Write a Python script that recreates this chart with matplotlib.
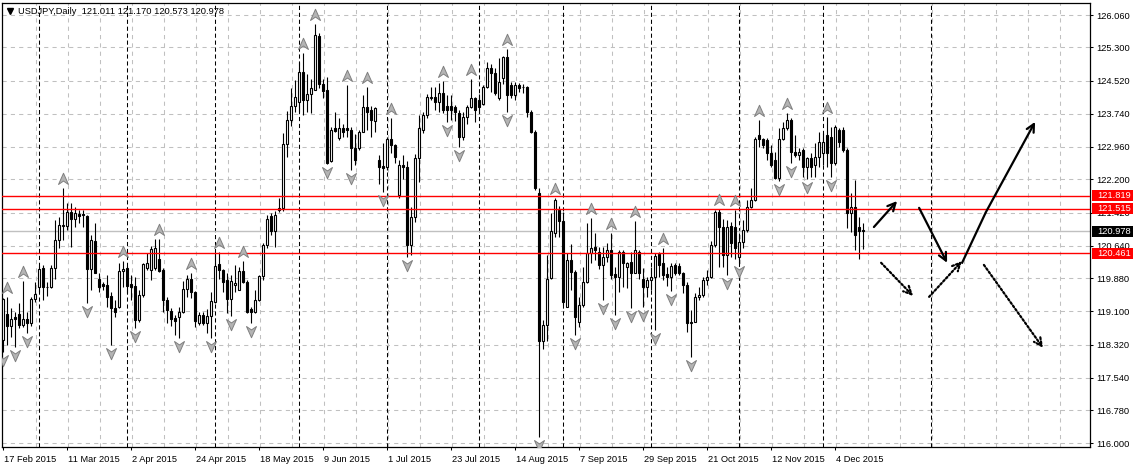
import numpy as np
import pandas as pd
import matplotlib
matplotlib.use("Agg")
import matplotlib.pyplot as plt
from matplotlib.path import Path
from matplotlib.patches import Rectangle, FancyArrowPatch
import matplotlib.transforms as mtransforms

plt.rcParams['font.family'] = ['Liberation Sans', 'DejaVu Sans']
plt.rcParams['lines.scale_dashes'] = False

# ---------------- DATA ----------------
symbol = "USDJPY"
timeframe = "Daily"
first_date = "2015-02-17"

opens = [118.43, 119.04, 118.76, 118.97, 119.04, 118.77, 118.91, 118.82, 119.38, 119.68,
         120.11, 119.68, 119.66, 120.11, 120.78, 121.10, 121.10, 121.43, 121.26, 121.38,
         121.38, 121.34, 120.09, 120.74, 119.87, 119.74, 119.72, 119.47, 119.18, 119.19,
         120.05, 120.11, 119.74, 119.69, 118.90, 119.48, 120.11, 120.07, 120.11, 120.32,
         120.07, 119.37, 119.11, 118.95, 118.97, 119.09, 119.62, 119.87, 119.56, 118.83,
         119.01, 118.82, 118.99, 119.33, 120.21, 120.07, 119.84, 119.40, 119.72, 119.61,
         120.05, 119.80, 119.15, 119.09, 119.36, 119.93, 120.66, 121.34, 120.99, 121.48,
         121.52, 123.03, 123.59, 123.92, 124.02, 124.73, 124.06, 124.20, 124.31, 125.57,
         124.45, 124.30, 122.64, 123.40, 123.16, 123.40, 123.40, 123.36, 122.93, 122.93,
         123.32, 123.91, 123.84, 123.58, 122.65, 122.51, 122.50, 123.14, 123.00, 121.83,
         122.54, 122.50, 120.66, 121.31, 122.69, 123.36, 123.71, 124.10, 124.14, 124.02,
         124.22, 123.92, 123.92, 123.89, 123.75, 123.20, 123.67, 123.89, 124.10, 124.06,
         123.98, 124.36, 124.81, 124.69, 124.10, 124.57, 125.08, 124.42, 124.18, 124.42,
         124.36, 124.36, 123.79, 123.32, 121.87, 118.41, 118.78, 119.89, 120.93, 121.48,
         121.21, 119.21, 120.30, 120.03, 118.86, 119.25, 119.80, 120.46, 120.60, 120.50,
         120.19, 120.38, 120.54, 119.98, 119.91, 120.50, 120.13, 120.27, 120.01, 120.50,
         119.87, 119.68, 119.84, 119.91, 120.45, 120.23, 119.98, 119.90, 120.19, 120.16,
         119.99, 119.72, 118.82, 118.86, 119.44, 119.48, 119.84, 119.91, 120.66, 121.44,
         121.09, 120.42, 121.11, 121.09, 120.38, 120.73, 121.01, 121.56, 121.71, 123.24,
         123.14, 123.12, 122.81, 122.65, 122.22, 123.14, 123.40, 123.59, 122.85, 122.77,
         122.89, 122.50, 122.69, 122.54, 122.73, 122.81, 123.24, 123.20, 122.58, 123.36,
         123.36, 122.89, 121.40, 121.56, 121.09, 121.011]
highs = [119.41, 119.44, 119.17, 119.09, 119.29, 119.82, 119.09, 119.44, 119.79, 120.16,
         120.19, 119.80, 120.19, 121.25, 121.31, 121.99, 121.65, 121.64, 121.54, 121.48,
         121.48, 121.36, 120.89, 121.17, 119.99, 119.80, 119.95, 119.56, 119.36, 120.23,
         120.28, 120.16, 119.95, 119.91, 119.60, 120.24, 120.48, 120.63, 120.79, 120.81,
         120.11, 119.44, 119.17, 119.01, 119.21, 119.82, 119.95, 120.01, 119.58, 119.09,
         119.09, 119.15, 119.56, 120.46, 120.50, 120.09, 119.99, 119.95, 120.19, 120.15,
         120.28, 119.84, 119.21, 119.60, 119.95, 120.70, 121.36, 121.40, 121.45, 121.75,
         123.30, 123.80, 124.34, 124.53, 124.96, 125.16, 124.67, 124.56, 125.85, 125.64,
         124.56, 124.60, 123.43, 123.79, 123.63, 123.50, 124.42, 123.44, 123.26, 123.36,
         124.18, 124.36, 123.92, 123.89, 122.77, 123.05, 123.19, 123.65, 123.03, 122.65,
         122.77, 122.62, 121.56, 122.80, 123.71, 123.79, 124.20, 124.38, 124.36, 124.47,
         124.50, 124.18, 124.18, 123.95, 123.83, 123.79, 123.95, 124.56, 124.14, 124.20,
         124.42, 124.96, 124.92, 124.81, 125.04, 125.10, 125.25, 124.49, 124.49, 124.47,
         124.45, 124.39, 123.83, 123.36, 121.99, 118.90, 120.42, 121.40, 121.76, 121.57,
         121.44, 120.46, 120.68, 120.07, 119.44, 120.15, 121.18, 121.30, 120.93, 120.62,
         120.62, 120.71, 120.95, 120.15, 120.54, 120.54, 120.27, 120.50, 121.23, 120.54,
         120.11, 119.91, 120.15, 120.46, 120.50, 120.58, 120.15, 120.23, 120.23, 120.23,
         120.03, 119.80, 119.13, 119.52, 119.68, 119.91, 120.07, 120.74, 121.48, 121.50,
         121.28, 121.24, 121.20, 121.49, 120.93, 121.24, 121.71, 121.99, 123.20, 123.59,
         123.16, 123.16, 123.01, 122.85, 123.40, 123.55, 123.75, 123.63, 123.24, 122.93,
         122.93, 122.73, 122.81, 123.05, 123.32, 123.28, 123.67, 123.44, 123.48, 123.40,
         123.44, 122.93, 121.87, 122.18, 121.32, 121.170]
lows = [118.15, 118.31, 118.50, 118.27, 118.70, 118.74, 118.58, 118.76, 119.33, 119.56,
        119.37, 119.45, 119.64, 119.87, 120.58, 120.78, 121.00, 120.62, 121.09, 121.17,
        121.09, 119.29, 119.60, 119.99, 119.56, 119.60, 119.21, 118.31, 118.97, 119.17,
        119.68, 119.52, 119.37, 118.70, 118.86, 119.44, 120.07, 119.84, 120.07, 120.03,
        119.09, 118.82, 118.75, 118.55, 118.47, 119.05, 119.44, 119.41, 118.74, 118.78,
        118.78, 118.58, 118.47, 119.30, 119.87, 119.56, 119.05, 119.00, 119.56, 119.60,
        119.76, 119.05, 118.82, 119.07, 119.34, 119.84, 120.58, 120.89, 120.62, 121.44,
        121.45, 122.73, 123.45, 123.79, 123.79, 123.71, 123.79, 123.75, 124.30, 124.34,
        124.10, 122.56, 122.61, 123.32, 123.12, 123.20, 123.20, 122.42, 122.54, 122.89,
        123.32, 123.36, 123.20, 123.32, 122.09, 121.91, 122.42, 122.81, 122.58, 121.75,
        122.20, 120.38, 120.42, 121.20, 122.14, 123.30, 123.63, 124.06, 123.83, 123.79,
        123.75, 123.55, 123.60, 123.58, 122.97, 123.12, 123.51, 123.87, 123.55, 123.75,
        123.95, 124.34, 124.26, 124.18, 124.06, 124.45, 123.79, 124.10, 124.06, 124.26,
        124.22, 123.67, 123.28, 121.95, 116.15, 118.21, 118.41, 119.87, 120.85, 120.85,
        119.25, 119.19, 119.60, 118.54, 118.74, 119.21, 119.77, 120.23, 120.30, 120.10,
        119.37, 120.27, 119.87, 119.01, 119.56, 119.68, 119.64, 119.17, 119.99, 119.87,
        119.21, 119.44, 119.60, 118.66, 119.91, 119.84, 119.70, 119.58, 119.95, 119.95,
        119.52, 118.62, 118.03, 118.86, 119.37, 119.44, 119.72, 119.89, 120.62, 120.15,
        120.15, 119.95, 120.38, 120.34, 120.23, 120.58, 120.97, 121.52, 121.68, 122.97,
        122.93, 122.65, 122.50, 122.20, 122.17, 123.12, 123.36, 122.58, 122.73, 122.65,
        122.26, 122.20, 122.26, 122.26, 122.50, 122.54, 122.48, 122.26, 122.54, 122.97,
        122.85, 121.05, 120.97, 120.55, 120.32, 120.573]
closes = [119.40, 118.76, 118.93, 118.93, 118.77, 118.91, 118.82, 119.38, 119.50, 120.10,
          119.68, 119.66, 120.11, 120.78, 121.12, 121.12, 121.43, 121.26, 121.40, 121.34,
          121.36, 120.09, 120.78, 120.01, 119.68, 119.70, 119.44, 119.17, 119.09, 120.05,
          120.09, 119.69, 119.68, 118.90, 119.48, 120.21, 120.24, 120.56, 120.58, 120.05,
          119.37, 119.13, 118.93, 118.87, 119.09, 119.62, 119.87, 119.55, 118.87, 119.01,
          118.82, 118.99, 119.34, 120.17, 120.07, 119.80, 119.40, 119.82, 119.76, 120.05,
          119.80, 119.09, 119.09, 119.36, 119.93, 120.66, 121.28, 120.99, 121.36, 121.52,
          123.03, 123.59, 123.92, 124.14, 124.73, 124.06, 124.20, 124.34, 125.59, 124.45,
          124.28, 122.58, 123.37, 123.34, 123.40, 123.32, 123.36, 122.93, 122.65, 123.32,
          123.91, 123.79, 123.59, 123.87, 122.50, 122.46, 123.14, 123.00, 122.73, 122.54,
          122.48, 120.66, 121.31, 122.69, 123.40, 123.71, 124.14, 124.14, 124.02, 124.22,
          123.83, 123.84, 123.82, 123.77, 123.20, 123.67, 123.91, 124.10, 123.83, 123.90,
          124.36, 124.81, 124.69, 124.22, 124.49, 125.08, 124.18, 124.18, 124.42, 124.34,
          124.36, 123.79, 123.32, 121.99, 118.41, 118.78, 119.85, 120.99, 121.71, 121.21,
          119.33, 120.30, 120.03, 118.97, 119.25, 119.80, 120.46, 120.58, 120.55, 120.19,
          120.38, 120.54, 119.95, 119.91, 120.50, 120.23, 120.23, 120.01, 120.55, 120.01,
          119.68, 119.84, 119.91, 120.40, 120.19, 119.95, 119.90, 120.17, 120.01, 120.01,
          119.72, 118.82, 118.86, 119.44, 119.48, 119.84, 119.91, 120.66, 121.44, 121.09,
          120.42, 121.09, 120.70, 120.58, 120.73, 121.01, 121.56, 121.71, 123.14, 123.14,
          123.01, 122.81, 122.54, 122.22, 123.14, 123.40, 123.59, 122.85, 122.77, 122.85,
          122.50, 122.69, 122.50, 122.73, 123.08, 123.08, 122.81, 122.58, 123.44, 123.08,
          122.89, 121.40, 121.56, 120.90, 120.99, 120.978]

# Fractal indicator marks (bar indices)
up_fractals = [1, 5, 15, 30, 39, 47, 54, 60, 75, 78, 86, 91, 97, 110, 117, 126, 138,
               147, 152, 158, 165, 179, 183, 189, 196, 206]
down_fractals = [0, 3, 6, 21, 27, 33, 44, 52, 57, 62, 81, 87, 95, 101, 111, 114, 126,
                 134, 143, 150, 153, 157, 160, 163, 167, 172, 181, 184, 194, 197, 201, 207]

price_ticks = [116.000, 116.780, 117.540, 118.320, 119.100, 119.880, 120.640,
               121.420, 122.200, 122.960, 123.740, 124.520, 125.300, 126.060]
x_tick_labels = ["17 Feb 2015", "11 Mar 2015", "2 Apr 2015", "24 Apr 2015",
                 "18 May 2015", "9 Jun 2015", "1 Jul 2015", "23 Jul 2015",
                 "14 Aug 2015", "7 Sep 2015", "29 Sep 2015", "21 Oct 2015",
                 "12 Nov 2015", "4 Dec 2015"]
level_lines = [121.819, 121.515, 120.461]
bid_price = 120.978

# forecast arrows drawn on the chart: (bar index, price)
solid_arrows = [((217.8, 121.08), (223.6, 121.69)),
                ((229.1, 121.53), (236.1, 120.24))]
solid_path = [(239.75, 120.22), (245.8, 121.43), (258.1, 123.55)]
dotted_arrows = [((219.6, 120.24), (227.6, 119.46)),
                 ((231.6, 119.44), (239.8, 120.28)),
                 ((245.3, 120.19), (260.1, 118.24))]

# ---------------- FIGURE ----------------
W, H = 1133, 465
fig = plt.figure(figsize=(W / 100, H / 100), dpi=100)
pl, pr, pt, pb = 1.5, 1090.0, 3.0, 446.7
ax = fig.add_axes([pl / W, (H - pb) / H, (pr - pl) / W, (pb - pt) / H])
bar_px = 4.0
bar0_px = 2.7
ax.set_xlim((pl - bar0_px) / bar_px, (pr - bar0_px) / bar_px)
ax.set_ylim(115.920, 126.342)

n = len(closes)
idx = np.arange(n)
o = np.array(opens); h = np.array(highs); l = np.array(lows); c = np.array(closes)

dates = pd.bdate_range(first_date, periods=n)
sep_idx = [i for i in range(1, n) if dates[i].month != dates[i - 1].month]
next_month = dates[-1] + pd.offsets.MonthBegin(1)
sep_idx.append(n - 1 + (next_month - dates[-1]).days)

grid_col = "#c0c0c0"
# grid
for p in price_ticks:
    ax.axhline(p, color=grid_col, lw=0.75, ls=(0, (3, 3)), zorder=1)
xmax = ax.get_xlim()[1]
for k in range(8, int(xmax) + 1, 8):
    ax.axvline(k + 0.25, color=grid_col, lw=0.75, ls=(0, (3, 3)), zorder=1)
for s in sep_idx:
    ax.axvline(s, color="black", lw=0.75, ls=(0, (3, 2)), zorder=1.5)

# bid line
ax.axhline(bid_price, color="#c0c0c0", lw=1.0, zorder=1.6)

# candles
ax.vlines(idx, l, h, color="black", lw=0.8, zorder=2)
bull = c >= o
bottoms = np.minimum(o, c)
heights = np.abs(c - o)
ax.bar(idx, heights, bottom=bottoms, width=0.6,
       color=np.where(bull, "white", "black"), edgecolor="black",
       linewidth=0.8, zorder=3)

# level lines
for p in level_lines:
    ax.axhline(p, color="#ff0000", lw=1.0, zorder=4)

# fractal marks
up_path = Path([(0, 1), (0.8, -0.8), (0, -0.25), (-0.8, -0.8), (0, 1)],
               [Path.MOVETO, Path.LINETO, Path.LINETO, Path.LINETO, Path.CLOSEPOLY])
down_path = Path([(0, -1), (0.8, 0.8), (0, 0.25), (-0.8, 0.8), (0, -1)],
                 [Path.MOVETO, Path.LINETO, Path.LINETO, Path.LINETO, Path.CLOSEPOLY])
up_tr = ax.transData + mtransforms.ScaledTranslation(0, 9 / 100, fig.dpi_scale_trans)
dn_tr = ax.transData + mtransforms.ScaledTranslation(0, -8 / 100, fig.dpi_scale_trans)
ax.plot(up_fractals, h[up_fractals], ls="none", marker=up_path, ms=9,
        mfc="#b4b4b4", mec="#808080", mew=0.7, transform=up_tr, zorder=5)
ax.plot(down_fractals, l[down_fractals], ls="none", marker=down_path, ms=9,
        mfc="#b4b4b4", mec="#808080", mew=0.7, transform=dn_tr, zorder=5)

# arrows
for a, b in solid_arrows:
    ax.add_patch(FancyArrowPatch(a, b, arrowstyle="->", mutation_scale=14,
                                 lw=1.6, color="black", zorder=6, shrinkA=0, shrinkB=0))
ax.plot([solid_path[0][0], solid_path[1][0]], [solid_path[0][1], solid_path[1][1]],
        color="black", lw=1.6, zorder=6, solid_capstyle="butt")
ax.add_patch(FancyArrowPatch(solid_path[1], solid_path[2], arrowstyle="->",
                             mutation_scale=14, lw=1.6, color="black", zorder=6,
                             shrinkA=0, shrinkB=0))
for a, b in dotted_arrows:
    ax.add_patch(FancyArrowPatch(a, b, arrowstyle="->", mutation_scale=14,
                                 lw=1.6, color="black", linestyle=(0, (1.4, 1.6)),
                                 zorder=6, shrinkA=0, shrinkB=0))

# axes styling
for sp in ax.spines.values():
    sp.set_color("black")
    sp.set_linewidth(0.9)
fs = 6.7
ax.yaxis.tick_right()
ax.set_yticks(price_ticks)
ax.set_yticklabels([f"{p:.3f}" for p in price_ticks])
ax.tick_params(axis="y", which="both", right=True, left=False, labelright=True,
               labelleft=False, length=2.5, width=0.75, pad=2.2, labelsize=fs,
               colors="black")
ax.set_xticks(range(0, 16 * len(x_tick_labels), 16))
ax.set_xticklabels(x_tick_labels)
ax.tick_params(axis="x", length=2.5, width=0.75, pad=3.5, labelsize=fs, colors="black")
off = mtransforms.ScaledTranslation(1.5 / 100, 0, fig.dpi_scale_trans)
for lbl in ax.get_xticklabels():
    lbl.set_ha("left")
    lbl.set_transform(lbl.get_transform() + off)

# price boxes on the axis
blend = mtransforms.blended_transform_factory(fig.transFigure, ax.transData)
yr = ax.get_ylim()
box_h = 10.5 * (yr[1] - yr[0]) / (pb - pt)
def price_box(p, col):
    ax.add_patch(Rectangle((1092 / W, p - box_h / 2), (W - 1092) / W, box_h,
                           transform=blend, facecolor=col, edgecolor="none",
                           clip_on=False, zorder=10))
    ax.text(1097 / W, p, f"{p:.3f}", transform=blend, color="white", fontsize=fs,
            va="center", ha="left", clip_on=False, zorder=11)
for p in level_lines:
    price_box(p, "#ff0000")
price_box(bid_price, "black")

# header
fig.text(18 / W, 1 - 11 / H,
         f"{symbol},{timeframe}  {o[-1]:.3f} {h[-1]:.3f} {l[-1]:.3f} {c[-1]:.3f}",
         fontsize=fs, va="center", ha="left", color="black")
fig.lines.append(plt.Line2D([10 / W], [1 - 11 / H], marker="v", ms=4.5, color="black",
                            transform=fig.transFigure, ls="none"))

fig.savefig("out.png", dpi=100, facecolor="white")
